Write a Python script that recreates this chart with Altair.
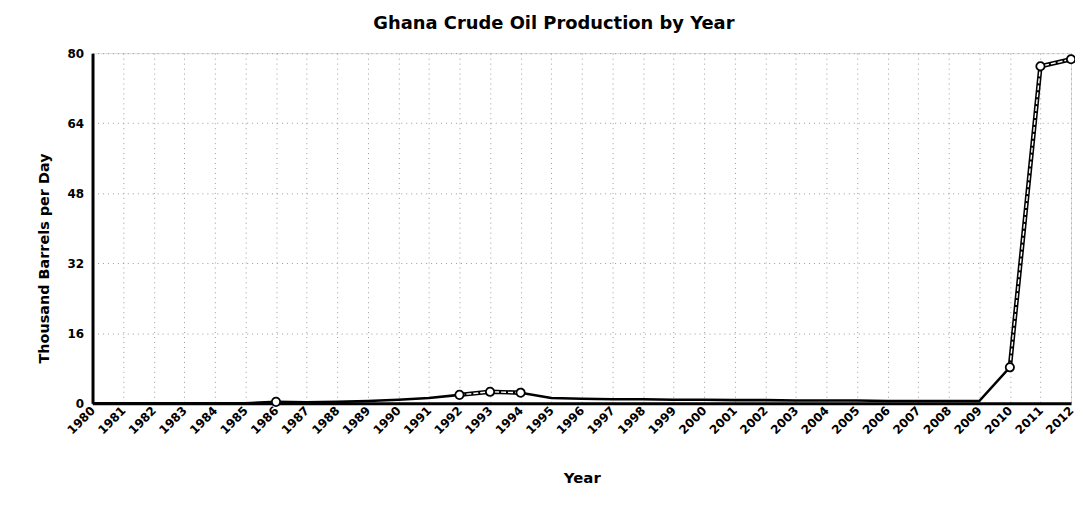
import altair as alt
import pandas as pd

years = list(range(1980, 2013))
production = [0, 0, 0, 0, 0, 0, 0.3, 0.2, 0.3, 0.5, 0.8, 1.2, 1.9, 2.6, 2.4,
              1.2, 1.0, 0.9, 0.9, 0.8, 0.8, 0.7, 0.7, 0.6, 0.6, 0.6, 0.5, 0.5,
              0.5, 0.5, 8.2, 77.0, 78.6]
marked_years = [1986, 1992, 1993, 1994, 2010, 2011, 2012]
highlight_segments = [[1992, 1993, 1994], [2010, 2011, 2012]]
y_ticks = [0, 16, 32, 48, 64, 80]

df = pd.DataFrame({"year": years, "value": production})
val = dict(zip(years, production))
pts = pd.DataFrame({"year": marked_years, "value": [val[y] for y in marked_years]})
seg_rows = []
for i, seg in enumerate(highlight_segments):
    for y in seg:
        seg_rows.append({"year": y, "value": val[y], "seg": i})
seg_df = pd.DataFrame(seg_rows)

FONT = "DejaVu Sans"

x_enc = alt.X("year:Q",
              scale=alt.Scale(domain=[1980, 2012], nice=False, zero=False),
              axis=alt.Axis(values=years, format="d", labelAngle=-45,
                            labelAlign="right", labelBaseline="middle",
                            labelPadding=5, ticks=False, labelFont=FONT,
                            labelFontSize=12, labelFontWeight="bold",
                            labelColor="black", domainColor="black",
                            domainWidth=3, grid=True, gridColor="#9a9a9a",
                            gridDash=[1, 4], gridWidth=1, title="Year",
                            titleFont=FONT, titleFontSize=15,
                            titleFontWeight="bold", titleColor="black",
                            titleY=75, titleBaseline="middle",
                            labelOverlap=False, labelFlush=False,
                            labelBound=False))
y_enc = alt.Y("value:Q",
              scale=alt.Scale(domain=[0, 80], nice=False),
              axis=alt.Axis(values=y_ticks, ticks=False, labelPadding=9,
                            labelFont=FONT, labelFontSize=12,
                            labelFontWeight="bold", labelColor="black",
                            domainColor="black", domainWidth=3, grid=True,
                            gridColor="#9a9a9a", gridDash=[1, 4], gridWidth=1,
                            title="Thousand Barrels per Day", titleFont=FONT,
                            titleFontSize=14.5, titleFontWeight="bold",
                            titleColor="black", titleX=-48, titleY=206,
                            titleBaseline="middle", titleAngle=-90))

base_line = alt.Chart(df).mark_line(color="black", strokeWidth=2.6).encode(x=x_enc, y=y_enc)
outer = alt.Chart(seg_df).mark_line(color="black", strokeWidth=4.5).encode(
    x=x_enc, y=y_enc, detail="seg:N")
inner = alt.Chart(seg_df).mark_line(color="white", strokeWidth=1.4, strokeDash=[5, 2]).encode(
    x=x_enc, y=y_enc, detail="seg:N")
points = alt.Chart(pts).mark_point(shape="circle", filled=True, fill="white",
                                   stroke="black", strokeWidth=1.8, size=70, opacity=1).encode(
    x=x_enc, y=y_enc)

chart = (base_line + outer + inner + points).properties(
    width=984, height=352,
    title=alt.TitleParams("Ghana Crude Oil Production by Year", font=FONT,
                          fontSize=18, fontWeight="bold", color="black",
                          offset=14, dx=-28),
    autosize=alt.AutoSizeParams(type="none"),
    padding={"left": 85, "top": 44, "right": 4, "bottom": 105},
).configure_view(stroke="black", strokeWidth=3).configure_axisX(
    labelOverlap=False).configure(background="white")

chart.save("out.html", embed_options={"renderer": "svg", "actions": False})
